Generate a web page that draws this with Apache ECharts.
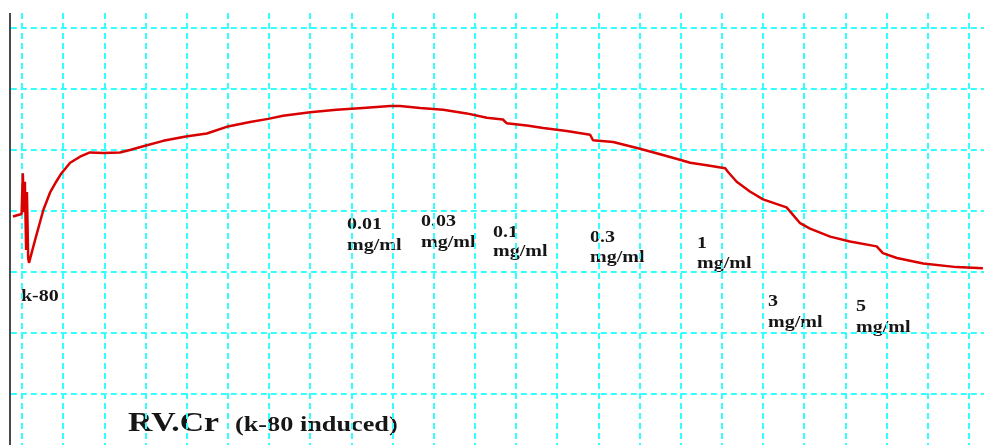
<!DOCTYPE html>
<html>
<head>
<meta charset="utf-8">
<script src="https://cdn.jsdelivr.net/npm/echarts@6/dist/echarts.min.js"></script>
<style>
  html, body { margin: 0; padding: 0; background: #fff; }
  #chart { width: 984px; height: 445px; }
</style>
</head>
<body>
<div id="chart"></div>
<script>
// trace position in grid divisions (x) and signal in grid divisions (y)
const timeDiv = [
  -0.22, -0.01, 0.02, 0.05, 0.07, 0.10, 0.12, 0.15, 0.17, 0.32, 0.52, 0.68, 0.83, 0.96,
  1.17, 1.41, 1.65, 1.97, 2.38, 2.62, 2.99, 3.43, 3.98, 4.49, 4.97, 5.54, 5.98, 6.34,
  7.00, 7.64, 8.28, 8.94, 9.18, 9.67, 10.23, 10.80, 11.29, 11.68, 11.77, 12.26, 12.66,
  13.23, 13.80, 13.87, 14.36, 15.01, 15.50, 15.98, 16.23, 16.63, 17.08, 17.15, 17.36,
  17.68, 18.00, 18.57, 18.66, 18.90, 19.14, 19.63, 20.11, 20.76, 20.91, 21.25, 21.89,
  22.70, 23.34
];
const signal = [
  3.91, 3.95, 4.62, 3.98, 4.48, 3.36, 4.31, 3.23, 3.15, 3.53, 4.02, 4.30, 4.48, 4.62,
  4.79, 4.89, 4.96, 4.95, 4.96, 5.00, 5.07, 5.15, 5.22, 5.27, 5.38, 5.46, 5.51, 5.56,
  5.62, 5.66, 5.69, 5.72, 5.72, 5.69, 5.66, 5.60, 5.53, 5.50, 5.44, 5.40, 5.36,
  5.31, 5.25, 5.16, 5.13, 5.02, 4.93, 4.84, 4.79, 4.75, 4.70, 4.64, 4.48,
  4.32, 4.19, 4.06, 3.99, 3.80, 3.71, 3.58, 3.50, 3.42, 3.31, 3.23, 3.14,
  3.08, 3.06
];

// dose annotations
const doseNames = ['0.01', '0.03', '0.1', '0.3', '1', '3', '5'];
const doseUnit = 'mg/ml';

// left edge of the recording paper, in grid divisions
const paperEdge = -0.29;

const chart = echarts.init(document.getElementById('chart'), null, { renderer: 'canvas' });

const gridStyle = { color: '#33ffff', width: 2, type: [6, 4] };

// annotation placement (left x, baseline of number, baseline of unit)
const labelPos = [
  [347, 230, 251], [421, 227, 248], [493, 238, 257], [590, 243, 263],
  [697, 249, 269], [768, 307, 328], [856, 312, 333]
];

const FONT = '"Liberation Serif", "Times New Roman", serif';
const INK = '#161616';

function textAt(text, left, baseline, size) {
  return {
    type: 'text',
    x: left,
    y: baseline - 0.34 * size,
    scaleX: 1.25,
    silent: true,
    style: {
      text: text,
      font: 'bold ' + size + 'px ' + FONT,
      fill: INK,
      verticalAlign: 'middle',
      align: 'left'
    }
  };
}

const graphics = [
  // blank margin left of the paper edge
  { type: 'rect', silent: true, z: 1, shape: { x: 0, y: 0, width: 9, height: 445 }, style: { fill: '#fff' } }
];
doseNames.forEach((name, i) => {
  const p = labelPos[i];
  graphics.push(textAt(name, p[0], p[1], 16));
  graphics.push(textAt(doseUnit, p[0], p[2], 16));
});
graphics.push(textAt('k-80', 21, 302, 16));
graphics.push(textAt('RV.Cr', 128, 433, 27));
graphics.push(textAt('(k-80 induced)', 235, 433, 21));

const option = {
  animation: false,
  backgroundColor: '#ffffff',
  grid: {
    left: 22 - 41.17, right: 0, top: 13, bottom: -10,
    containLabel: false,
    outerBoundsMode: 'none'
  },
  xAxis: {
    type: 'value',
    min: -1,
    max: -1 + (984 - 22 + 41.17) / 41.17,
    interval: 1,
    axisLine: { show: false },
    axisTick: { show: false },
    axisLabel: { show: false },
    splitLine: { show: true, showMaxLine: false, lineStyle: gridStyle }
  },
  yAxis: {
    type: 'value',
    min: 0,
    max: 442 / 61,
    interval: 1,
    axisLine: { show: false },
    axisTick: { show: false },
    axisLabel: { show: false },
    splitLine: { show: true, showMaxLine: false, showMinLine: false, lineStyle: gridStyle }
  },
  series: [{
    type: 'line',
    data: timeDiv.map((t, i) => [t, signal[i]]),
    showSymbol: false,
    smooth: false,
    z: 3,
    lineStyle: { color: '#d90000', width: 2.5 },
    markLine: {
      silent: true,
      symbol: ['none', 'none'],
      label: { show: false },
      lineStyle: { color: '#4a4a4a', width: 2, type: 'solid' },
      data: [{ xAxis: paperEdge }]
    }
  }],
  graphic: graphics
};

chart.setOption(option);
</script>
</body>
</html>
